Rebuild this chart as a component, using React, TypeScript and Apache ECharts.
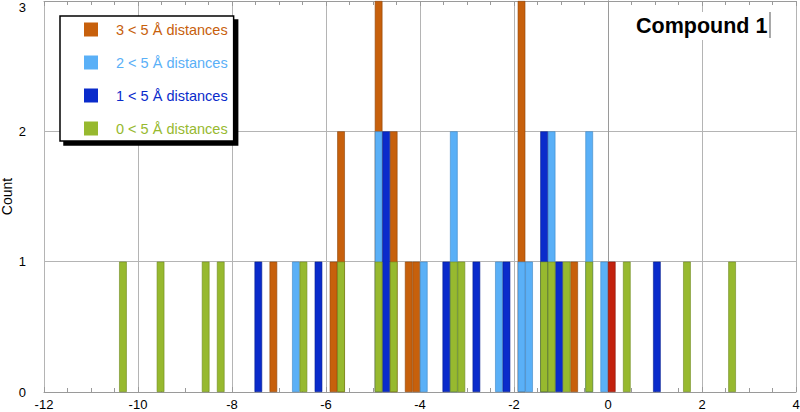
import React, { useEffect, useRef } from "react";
import * as echarts from "echarts";

// Bin centres (Å-scaled value) and counts for each series
const orangeX = [-7.12, -5.84, -5.68, -4.88, -4.56, -4.24, -4.08, -1.84, -0.72];
const orangeCount = [1, 1, 2, 3, 2, 1, 1, 3, 1];

const lightBlueX = [-6.64, -4.88, -3.92, -3.28, -2.32, -1.84, -1.68, -1.2, -0.4, -0.08];
const lightBlueCount = [1, 2, 1, 2, 1, 1, 1, 2, 2, 1];

const darkBlueX = [-7.44, -6.16, -4.72, -3.44, -2.8, -2.16, -1.36, -1.04, 1.04];
const darkBlueCount = [1, 1, 2, 1, 1, 1, 2, 1, 1];

const greenX = [-10.32, -9.52, -8.56, -8.24, -6.48, -5.68, -4.88, -4.56, -3.28, -3.12, -1.36, -1.2, -0.88, -0.4, 0.4, 1.68, 2.64];
const greenCount = [1, 1, 1, 1, 1, 1, 1, 1, 1, 1, 1, 1, 1, 1, 1, 1, 1];

const redX = [0.08];
const redCount = [1];

const seriesNames = ["3 < 5 Å distances", "2 < 5 Å distances", "1 < 5 Å distances", "0 < 5 Å distances"];
const xTicks = { min: -12, max: 4, interval: 2 };
const yTicks = { min: 0, max: 3, interval: 1 };

const FONT = "'Liberation Sans', Arial, Helvetica, sans-serif";

function pairs(xs: number[], cs: number[]) {
  return xs.map((x, i) => [x, cs[i]]);
}

export default function App() {
  const ref = useRef<HTMLDivElement>(null);
  useEffect(() => {
    if (!ref.current) return;
    const chart = echarts.init(ref.current, undefined, { renderer: "svg" });
    const colors = ["#C7600C", "#5AB0F7", "#0A2BCB", "#97B92F", "#C2210E"];
    const borders = ["#8F4408", "#3C86C6", "#06208F", "#6F8A1E", "#8A160A"];
    const barBase = (i: number) => ({
      type: "bar" as const,
      barWidth: 7.6,
      barGap: "-100%",
      itemStyle: { color: colors[i], borderColor: borders[i], borderWidth: 0.6 },
      emphasis: { disabled: true },
    });
    const gridColor = "#b4b4b4";
    const axisColor = "#9a9a9a";
    chart.setOption({
      animation: false,
      textStyle: { fontFamily: FONT },
      grid: { left: 44, right: 4, top: 1, bottom: 20, outerBoundsMode: "none", containLabel: false },
      title: {
        text: "Compound 1",
        left: 632,
        top: 12,
        padding: [3, 4, 3, 4],
        backgroundColor: "#ffffff",
        textStyle: { fontFamily: FONT, fontSize: 21.5, fontWeight: "bold", color: "#000" },
      },
      legend: {
        orient: "vertical",
        left: 60,
        top: 16,
        padding: [6, 6, 5, 24],
        itemWidth: 14,
        itemHeight: 14,
        itemGap: 18,
        icon: "rect",
        itemStyle: { borderWidth: 0 },
        backgroundColor: "#ffffff",
        borderColor: "#000",
        borderWidth: 1.5,
        borderRadius: 0,
        shadowColor: "#000",
        shadowBlur: 0,
        shadowOffsetX: 4,
        shadowOffsetY: 4,
        selectedMode: false,
        textStyle: { fontFamily: FONT, fontSize: 14.5, padding: [0, 0, 0, 13] },
        data: seriesNames.map((n, i) => ({ name: n, textStyle: { color: colors[i] } })),
      },
      xAxis: [
        {
          type: "value",
          min: xTicks.min,
          max: xTicks.max,
          interval: xTicks.interval,
          position: "bottom",
          axisLine: { show: true, onZero: false, lineStyle: { color: axisColor } },
          axisTick: { show: true, inside: true, length: 5, lineStyle: { color: axisColor } },
          minorTick: { show: true, splitNumber: 4, length: 4, lineStyle: { color: axisColor } },
          axisLabel: { color: "#000", fontSize: 13, margin: 6, fontFamily: FONT },
          splitLine: { show: true, lineStyle: { color: gridColor, width: 1 } },
        },
        {
          type: "value",
          min: xTicks.min,
          max: xTicks.max,
          interval: xTicks.interval,
          position: "top",
          axisLine: { show: true, onZero: false, lineStyle: { color: axisColor } },
          axisTick: { show: true, inside: true, length: 5, lineStyle: { color: axisColor } },
          minorTick: { show: true, splitNumber: 4, length: 4, lineStyle: { color: axisColor } },
          axisLabel: { show: false },
          splitLine: { show: false },
        },
      ],
      yAxis: [
        {
          type: "value",
          min: yTicks.min,
          max: yTicks.max,
          interval: yTicks.interval,
          position: "left",
          name: "Count",
          nameLocation: "middle",
          nameGap: 30,
          nameMoveOverlap: false,
          nameTextStyle: { color: "#000", fontSize: 14, fontFamily: FONT },
          axisLine: { show: true, lineStyle: { color: axisColor } },
          axisTick: { show: false },
          axisLabel: { color: "#000", fontSize: 13, margin: 18, fontFamily: FONT, verticalAlignMaxLabel: "top" },
          splitLine: { show: true, lineStyle: { color: gridColor, width: 1 } },
        },
        {
          type: "value",
          min: yTicks.min,
          max: yTicks.max,
          interval: yTicks.interval,
          position: "right",
          axisLine: { show: true, lineStyle: { color: axisColor } },
          axisTick: { show: false },
          axisLabel: { show: false },
          splitLine: { show: false },
        },
      ],
      graphic: [
        {
          type: "line",
          shape: { x1: 770, y1: 12, x2: 770, y2: 38 },
          style: { stroke: "#555", lineWidth: 1 },
          z: 10,
        },
      ],
      series: [
        { ...barBase(0), name: seriesNames[0], data: pairs(orangeX, orangeCount) },
        { ...barBase(1), name: seriesNames[1], data: pairs(lightBlueX, lightBlueCount) },
        { ...barBase(2), name: seriesNames[2], data: pairs(darkBlueX, darkBlueCount) },
        { ...barBase(3), name: seriesNames[3], data: pairs(greenX, greenCount) },
        { ...barBase(4), name: "other", data: pairs(redX, redCount) },
      ],
    });
    return () => chart.dispose();
  }, []);
  return (
    <div
      ref={ref}
      style={{ position: "fixed", left: 0, top: 0, width: 800, height: 412, background: "#fff" }}
    />
  );
}
